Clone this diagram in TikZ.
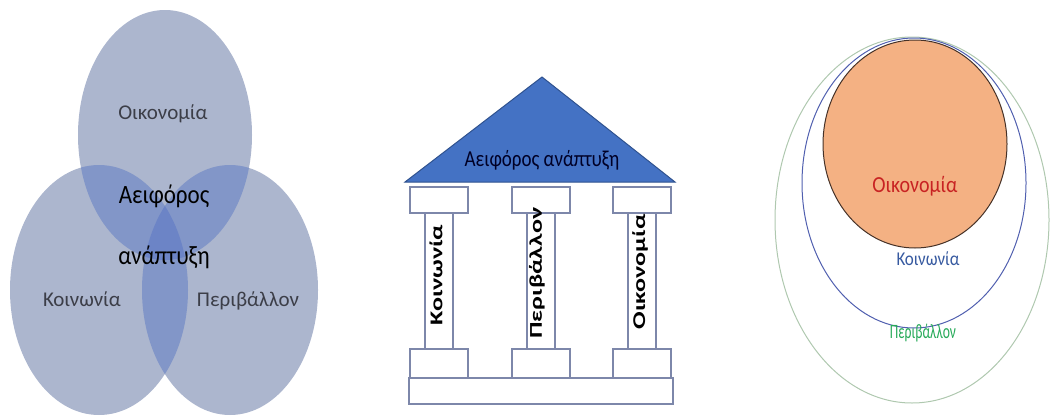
\documentclass[tikz,border=0pt]{standalone}
\usepackage{fontspec}
\setmainfont{Carlito}
\definecolor{vone}{RGB}{172,182,206}
\definecolor{vtwo}{RGB}{130,150,200}
\definecolor{vthree}{RGB}{108,132,198}
\definecolor{vtext}{RGB}{60,62,72}
\definecolor{roofblue}{RGB}{68,114,196}
\definecolor{roofedge}{RGB}{47,82,143}
\definecolor{blockedge}{RGB}{125,135,170}
\definecolor{orangefill}{RGB}{244,177,131}
\definecolor{orangeedge}{RGB}{70,50,40}
\definecolor{ecored}{RGB}{200,35,35}
\definecolor{socblue}{RGB}{55,90,160}
\definecolor{envgreen}{RGB}{40,170,90}
\definecolor{greenedge}{RGB}{175,200,175}
\definecolor{blueedge}{RGB}{80,95,175}
\tikzset{
  vlabel/.style={text=vtext,font=\fontsize{21}{25}\selectfont,anchor=base},
  vcenter/.style={text=black,font=\fontsize{23}{28}\selectfont,anchor=base},
  block/.style={draw=blockedge,line width=1.3pt,fill=white},
  coltext/.style={rotate=90,font=\bfseries\fontsize{18}{20}\selectfont,inner sep=0pt},
}
\def\ecoE{(165,135) ellipse [x radius=87pt, y radius=125pt]}
\def\socE{(99,290) ellipse [x radius=89pt, y radius=125pt]}
\def\envE{(230,290) ellipse [x radius=88pt, y radius=125pt]}
\begin{document}
\begin{tikzpicture}[x=1pt,y=-1pt]
\useasboundingbox (0,0) rectangle (1051,415);
% ---------- Venn ----------
\fill[vone] \ecoE;
\fill[vone] \socE;
\fill[vone] \envE;
\begin{scope}
  \clip \ecoE;
  \fill[vtwo] \socE;
  \fill[vtwo] \envE;
\end{scope}
\begin{scope}
  \clip \socE;
  \fill[vtwo] \envE;
\end{scope}
\begin{scope}
  \clip \ecoE;
  \clip \socE;
  \fill[vthree] \envE;
\end{scope}
\node[vlabel] (veco) at (163,119) {Οικονομία};
\node[vlabel] (vsoc) at (82,306) {Κοινωνία};
\node[vlabel] (venv) at (248,306) {Περιβάλλον};
\node[vcenter] (vs1) at (164,203) {\scalebox{1}[1.15]{Αειφόρος}};
\node[vcenter] (vs2) at (164,264) {\scalebox{1}[1.15]{ανάπτυξη}};
% ---------- Temple ----------
\filldraw[fill=roofblue,draw=roofedge,line width=1pt] (542,77) -- (675,182) -- (405,182) -- cycle;
\node[anchor=base,font=\fontsize{19}{22}\selectfont,text=black!85!blue] (roof) at (542,166) {\scalebox{1}[1.2]{Αειφόρος ανάπτυξη}};
% base
\draw[block] (409,378) rectangle (673,404);
% columns
\foreach \cx in {439,541,642}{
  \draw[block] (\cx-29,349) rectangle (\cx+29,378);
  \draw[block] (\cx-14,213) rectangle (\cx+14,349);
  \draw[block] (\cx-29,187) rectangle (\cx+29,213);
}
\node[coltext] (c1) at (436,275) {\scalebox{1.45}[1]{Κοινωνία}};
\node[coltext] (c2) at (537,273) {\scalebox{1.45}[1]{Περιβάλλον}};
\node[coltext] (c3) at (640,272) {\scalebox{1.45}[1]{Οικονομία}};
% ---------- Nested ----------
\draw[greenedge,line width=1pt] (912,220) ellipse [x radius=137pt, y radius=183pt];
\draw[blueedge,line width=1pt] (914,183) ellipse [x radius=112pt, y radius=145pt];
\filldraw[fill=orangefill,draw=orangeedge,line width=1pt] (915,144) ellipse [x radius=92pt, y radius=104pt];
\node[anchor=base,text=ecored,font=\fontsize{20}{24}\selectfont] (reco) at (915,192) {\scalebox{1}[1.15]{Οικονομία}};
\node[anchor=base,text=socblue,font=\fontsize{17}{20}\selectfont] (rsoc) at (928,265) {\scalebox{1}[1.15]{Κοινωνία}};
\node[anchor=base,text=envgreen,font=\fontsize{17}{20}\selectfont] (renv) at (923,338) {\scalebox{0.8}[1.2]{Περιβάλλον}};
\end{tikzpicture}
\end{document}
